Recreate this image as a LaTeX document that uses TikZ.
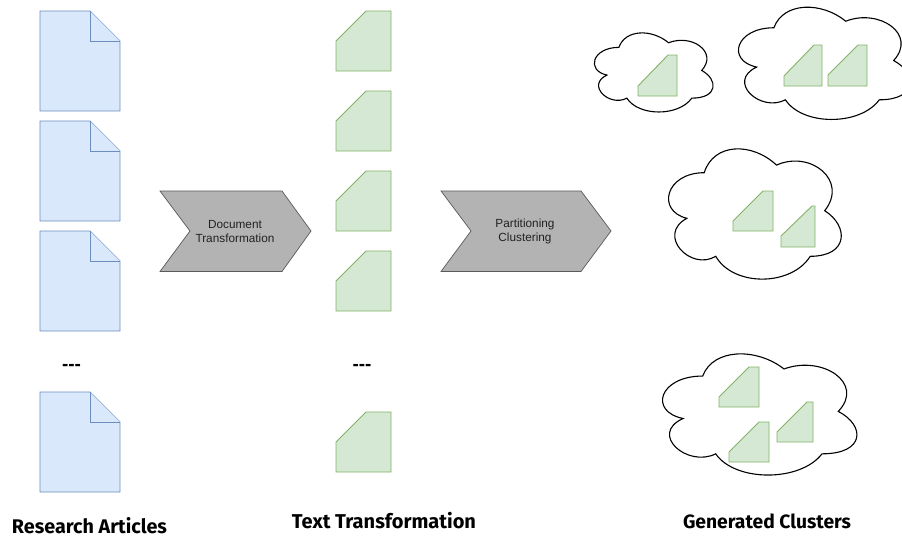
\documentclass[tikz,border=0pt]{standalone}
\usepackage{fontspec}
\setmainfont{Liberation Sans}
\newfontfamily\handfont{Fira Sans}
\tikzset{
  docshape/.style={fill=docfill,draw=docline,line width=0.9pt,line join=miter},
  cardshape/.style={fill=cardfill,draw=cardline,line width=0.9pt,line join=miter},
  chevshape/.style={fill=chevfill,draw=chevline,line width=0.7pt},
  cloudshape/.style={fill=white,draw=black,line width=1.1pt},
  chevtext/.style={font=\fontsize{11.8}{14}\selectfont,text=chevtextc,align=center,inner sep=0pt},
  headtext/.style={font=\handfont\bfseries\fontsize{16}{18}\selectfont,text=black,inner sep=0pt},
  dots/.style={font=\bfseries\fontsize{19}{20}\selectfont,text=black,inner sep=0pt}
}
\definecolor{docfill}{HTML}{DAE8FC}
\definecolor{docline}{HTML}{6C8EBF}
\definecolor{cardfill}{HTML}{D5E8D4}
\definecolor{cardline}{HTML}{82B366}
\definecolor{chevfill}{HTML}{B3B3B3}
\definecolor{chevline}{HTML}{5A5A5A}
\definecolor{chevtextc}{HTML}{222222}
\newcommand{\docfig}[1]{%
  \draw[docshape] (40,#1) -- ++(50,0) -- ++(30,30) -- ++(0,70) -- ++(-80,0) -- cycle;
  \draw[docshape] (90,#1) -- ++(0,30) -- ++(30,0);
}
\newcommand{\cardfig}[1]{%
  \draw[cardshape] (336,#1+30) -- (366,#1) -- (391,#1) -- (391,#1+60) -- (336,#1+60) -- cycle;
}
% left, right, top, bottom, bevel y, bevel x
\newcommand{\smallcard}[6]{%
  \draw[cardshape] (#1,#5) -- (#6,#3) -- (#2,#3) -- (#2,#4) -- (#1,#4) -- cycle;
}
\newcommand{\cloudfig}[4]{%
  \begin{scope}[shift={(#1,#2)},x=#3pt,y=-#4pt]
  \draw[cloudshape] (.25,.25)
    .. controls (.05,.25) and (0,.5) .. (.16,.55)
    .. controls (0,.66) and (.18,.9) .. (.31,.8)
    .. controls (.4,1) and (.7,1) .. (.8,.8)
    .. controls (1,.8) and (1,.6) .. (.875,.5)
    .. controls (1,.3) and (.8,.1) .. (.625,.2)
    .. controls (.5,.05) and (.3,.05) .. (.25,.25) -- cycle;
  \end{scope}
}
\begin{document}
\begin{tikzpicture}[x=1pt,y=-1pt]
\useasboundingbox (0,0) rectangle (902,539);
\clip (0,0) rectangle (902,539);
\fill[white] (0,0) rectangle (902,539);
\docfig{11}\docfig{121}\docfig{231}\docfig{392}
\cardfig{11}\cardfig{91}\cardfig{171}\cardfig{251}\cardfig{412}
\node[dots] (dotsa) at (71.5,367) {{-}{-}{-}};
\node[dots] (dotsb) at (362,367) {{-}{-}{-}};
\draw[chevshape] (160,191) -- (282,191) -- (311,231) -- (282,271.5) -- (160,271.5) -- (190,231) -- cycle;
\node[chevtext] (doctrans) at (235,231) {Document\\Transformation};
\draw[chevshape] (441,191) -- (581,191) -- (611,231) -- (581,271.5) -- (441,271.5) -- (471,231) -- cycle;
\node[chevtext] (partclust) at (525,231) {Partitioning\\Clustering};
\cloudfig{585.7}{24.3}{132.6}{92.3}
\cloudfig{726}{-5}{191.6}{131}
\cloudfig{656}{134.7}{192.8}{152}
\cloudfig{648.4}{340.7}{217}{141.4}
\smallcard{638}{677}{55}{96}{86}{668}
\smallcard{784}{822}{45}{86}{76}{814}
\smallcard{828}{867}{45}{86}{75}{858}
\smallcard{733}{773}{191}{231}{221}{763}
\smallcard{781}{815}{206}{247}{236}{812}
\smallcard{719}{759}{367}{407}{397}{749}
\smallcard{777}{813}{402}{442}{432}{807}
\smallcard{729}{769}{422}{462}{452}{759}
\node[headtext] (heada) at (89.5,526) {\resizebox{155pt}{!}{Research Articles}};
\node[headtext] (headb) at (384,521) {\resizebox{184pt}{!}{Text Transformation}};
\node[headtext] (headc) at (767,521) {\resizebox{168pt}{!}{Generated Clusters}};
\end{tikzpicture}
\end{document}
